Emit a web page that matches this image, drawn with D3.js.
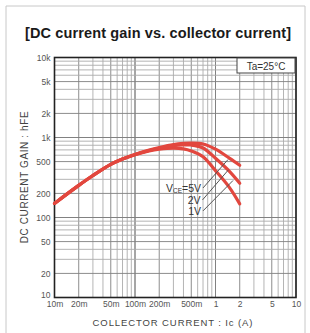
<!DOCTYPE html>
<html>
<head>
<meta charset="utf-8">
<script src="https://cdn.jsdelivr.net/npm/d3@7"></script>
<style>
  body { margin: 0; background: #fff; }
  text { font-family: "Liberation Sans", Arial, sans-serif; }
</style>
</head>
<body>
<svg id="chart" width="310" height="333"></svg>
<script>
// collector current (A) and DC current gain for each VCE
var current = [0.01, 0.02, 0.03, 0.05, 0.07, 0.1, 0.15, 0.2, 0.3, 0.4, 0.5, 0.7, 1, 1.5, 2];
var gain1V = [150, 252, 335, 462, 537, 610, 680, 715, 738, 722, 680, 575, 385, 235, 148];
var gain2V = [150, 252, 335, 462, 537, 612, 688, 735, 790, 808, 805, 740, 550, 375, 268];
var gain5V = [150, 252, 335, 462, 537, 614, 695, 748, 815, 843, 852, 830, 715, 548, 450];

var xTicks = [0.01, 0.02, 0.05, 0.1, 0.2, 0.5, 1, 2, 5, 10];
var xTickLabels = ["10m", "20m", "50m", "100m", "200m", "500m", "1", "2", "5", "10"];
var yTicks = [10, 20, 50, 100, 200, 500, 1000, 2000, 5000, 10000];
var yTickLabels = ["10", "20", "50", "100", "200", "500", "1k", "2k", "5k", "10k"];

var svg = d3.select("#chart");
var pLeft = 54.5, pRight = 296, pTop = 57.5, pBottom = 297.5;

var x = d3.scaleLog().domain([0.01, 10]).range([pLeft, pRight]);
var y = d3.scaleLog().domain([10, 10000]).range([pBottom, pTop]);

// outer scan frame
svg.append("path")
    .attr("d", "M6,333 L6,6 L305,6 L305,333")
    .attr("fill", "none").attr("stroke", "#c8c8c8").attr("stroke-width", 1);

// title
svg.append("text")
    .attr("x", 25).attr("y", 38)
    .attr("textLength", 266)
    .attr("font-size", 14.5).attr("font-weight", "bold")
    .attr("fill", "#1a1a1a")
    .text("[DC current gain vs. collector current]");

// grid
var g = svg.append("g");
var xMinor = [], yMinor = [];
[0.01, 0.1, 1].forEach(function(d) { for (var k = 1; k <= 10; k++) xMinor.push(+(d * k).toPrecision(3)); });
[10, 100, 1000].forEach(function(d) { for (var k = 1; k <= 10; k++) yMinor.push(d * k); });

g.selectAll(".vx").data(xMinor).enter().append("line")
    .attr("x1", function(d) { return x(d); }).attr("x2", function(d) { return x(d); })
    .attr("y1", pTop).attr("y2", pBottom)
    .attr("stroke", function(d) { return xTicks.indexOf(d) >= 0 ? "#808080" : "#ababab"; })
    .attr("stroke-width", 0.9);

g.selectAll(".hy").data(yMinor).enter().append("line")
    .attr("x1", pLeft).attr("x2", pRight)
    .attr("y1", function(d) { return y(d); }).attr("y2", function(d) { return y(d); })
    .attr("stroke", function(d) { return yTicks.indexOf(d) >= 0 ? "#808080" : "#ababab"; })
    .attr("stroke-width", 0.9);

// plot frame
svg.append("rect")
    .attr("x", pLeft).attr("y", pTop)
    .attr("width", pRight - pLeft).attr("height", pBottom - pTop)
    .attr("fill", "none").attr("stroke", "#222").attr("stroke-width", 1.6);

// axes (labels only)
var xAxis = d3.axisBottom(x).tickValues(xTicks).tickSize(0).tickPadding(3)
    .tickFormat(function(d, i) { return xTickLabels[i]; });
var yAxis = d3.axisLeft(y).tickValues(yTicks).tickSize(0).tickPadding(4)
    .tickFormat(function(d, i) { return yTickLabels[i]; });

var gx = svg.append("g").attr("transform", "translate(0," + pBottom + ")").call(xAxis);
var gy = svg.append("g").attr("transform", "translate(" + pLeft + ",0)").call(yAxis);
[gx, gy].forEach(function(ax) {
    ax.select(".domain").remove();
    ax.selectAll("text").attr("font-size", 8.5).attr("fill", "#555")
        .attr("font-family", "Liberation Sans, Arial, sans-serif");
});
// lift the bottom "10" a little off the corner
gy.selectAll(".tick").filter(function(d) { return d === 10; })
    .select("text").attr("dy", "0.05em");

// axis titles
svg.append("text")
    .attr("transform", "translate(28,177) rotate(-90)")
    .attr("text-anchor", "middle")
    .attr("font-size", 10).attr("fill", "#444")
    .attr("letter-spacing", 0.6)
    .text("DC CURRENT GAIN : hFE");

svg.append("text")
    .attr("x", 173).attr("y", 326)
    .attr("text-anchor", "middle")
    .attr("font-size", 9.5).attr("fill", "#444")
    .attr("letter-spacing", 0.9)
    .text("COLLECTOR CURRENT : Ic (A)");

// Ta box
svg.append("rect")
    .attr("x", 237).attr("y", 58).attr("width", 58).attr("height", 15)
    .attr("fill", "#fff").attr("stroke", "#444").attr("stroke-width", 1);
svg.append("text")
    .attr("x", 266).attr("y", 69.5).attr("text-anchor", "middle")
    .attr("font-size", 10).attr("fill", "#333")
    .text("Ta=25°C");

// curves
var line = d3.line()
    .x(function(d) { return x(d[0]); })
    .y(function(d) { return y(d[1]); })
    .curve(d3.curveCatmullRom.alpha(0.5));

[gain1V, gain2V, gain5V].forEach(function(vals) {
    svg.append("path")
        .datum(current.map(function(c, i) { return [c, vals[i]]; }))
        .attr("d", line)
        .attr("fill", "none")
        .attr("stroke", "#e2473e")
        .attr("stroke-width", 3.2)
        .attr("stroke-linecap", "round");
});

// leader lines for VCE labels (data coordinates)
var leaders = [
    { from: [0.70, 234], to: [1.43, 530] },
    { from: [0.69, 166], to: [1.45, 395] },
    { from: [0.70, 121], to: [1.65, 290] }
];
leaders.forEach(function(l) {
    svg.append("line")
        .attr("x1", x(l.from[0])).attr("y1", y(l.from[1]))
        .attr("x2", x(l.to[0])).attr("y2", y(l.to[1]))
        .attr("stroke", "#555").attr("stroke-width", 1);
});

var lbl = svg.append("g").attr("font-size", 10.5).attr("fill", "#333");
var t5 = lbl.append("text").attr("x", x(0.70) - 2).attr("y", y(234) + 4).attr("text-anchor", "end");
t5.append("tspan").text("V");
t5.append("tspan").attr("font-size", 6.5).attr("dy", 1).text("CE");
t5.append("tspan").attr("dy", -1).text("=5V");
lbl.append("text").attr("x", x(0.69) - 2).attr("y", y(166) + 4).attr("text-anchor", "end").text("2V");
lbl.append("text").attr("x", x(0.70) - 2).attr("y", y(121) + 4).attr("text-anchor", "end").text("1V");
</script>
</body>
</html>
